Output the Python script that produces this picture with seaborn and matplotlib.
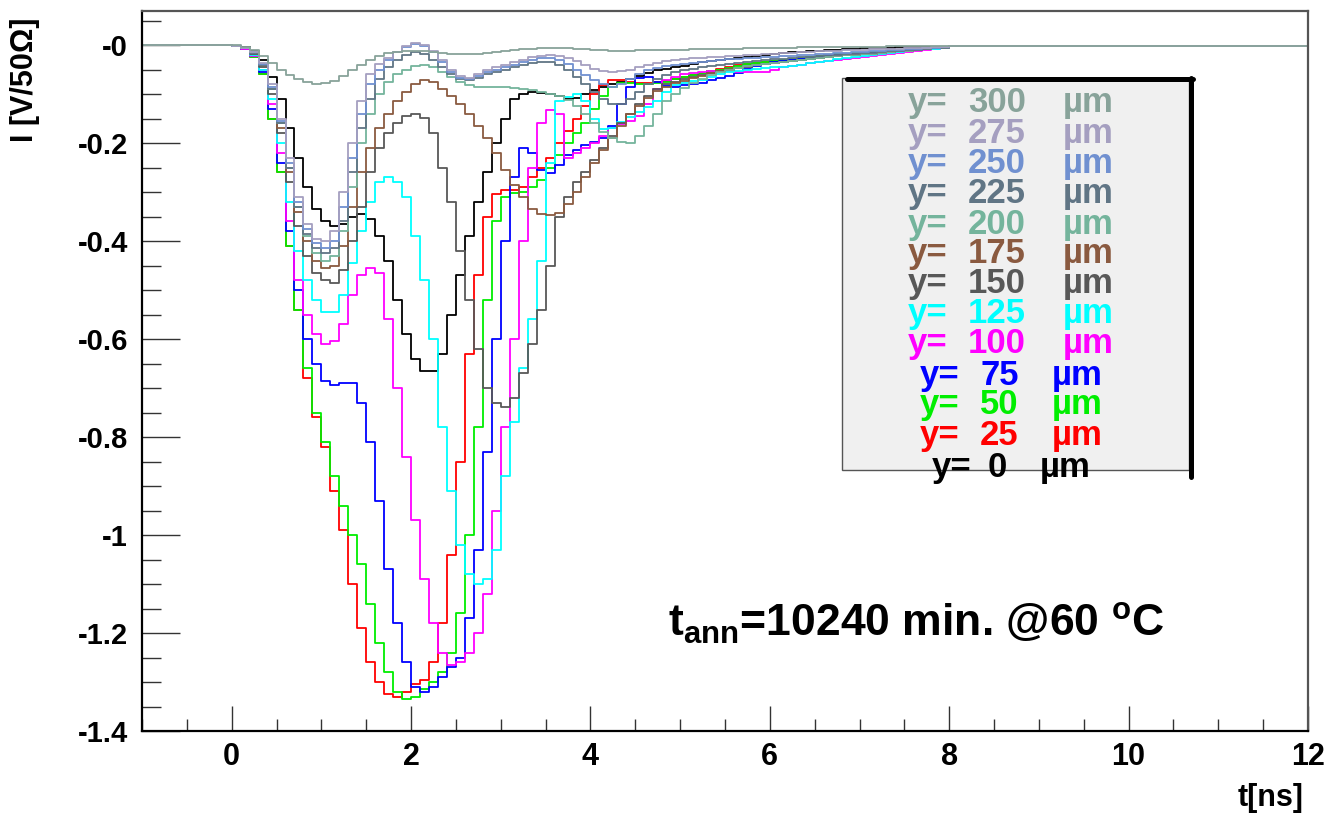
import numpy as np
import pandas as pd
import matplotlib
matplotlib.use("Agg")
import matplotlib.pyplot as plt
import seaborn as sns
from matplotlib.patches import Rectangle
from matplotlib.lines import Line2D
from matplotlib.ticker import MultipleLocator, FuncFormatter

# ---------------- data ----------------
T_START = 0.0      # first bin edge [ns]
BIN_W = 0.1        # bin width [ns]
PRE_T = -1.0       # start of baseline before signal
END_T = 12.0       # end of time window
BASE_PRE = 0.0
BASE_POST = -0.003

POSITIONS = [0, 25, 50, 75, 100, 125, 150, 175, 200, 225, 250, 275, 300]

I_Y0 = [-0.002, -0.005, -0.012, -0.03, -0.065, -0.11, -0.17, -0.23, -0.29, -0.335,
        -0.36, -0.37, -0.365, -0.35, -0.345, -0.355, -0.39, -0.44, -0.52, -0.59,
        -0.64, -0.665, -0.665, -0.63, -0.55, -0.47, -0.39, -0.32, -0.26, -0.2,
        -0.15, -0.11, -0.1, -0.095, -0.097, -0.1, -0.105, -0.11, -0.108, -0.1,
        -0.092, -0.086, -0.08, -0.075, -0.069, -0.064, -0.057, -0.052, -0.048, -0.045,
        -0.042, -0.038, -0.035, -0.032, -0.03, -0.028, -0.026, -0.024, -0.022, -0.02,
        -0.018, -0.016, -0.015, -0.014, -0.013, -0.012, -0.011, -0.01, -0.009, -0.008,
        -0.007, -0.007, -0.006, -0.006, -0.005, -0.005, -0.005, -0.004, -0.004, -0.004]

I_Y25 = [-0.002, -0.008, -0.025, -0.06, -0.15, -0.26, -0.41, -0.54, -0.68, -0.76,
         -0.82, -0.91, -0.99, -1.10, -1.19, -1.26, -1.30, -1.325, -1.33, -1.32,
         -1.305, -1.295, -1.26, -1.18, -1.04, -0.85, -0.63, -0.47, -0.35, -0.305,
         -0.296, -0.296, -0.29, -0.27, -0.25, -0.23, -0.2, -0.175, -0.15, -0.125,
         -0.1, -0.082, -0.072, -0.072, -0.075, -0.077, -0.077, -0.075, -0.073, -0.07,
         -0.066, -0.062, -0.058, -0.053, -0.048, -0.044, -0.04, -0.038, -0.036, -0.034,
         -0.032, -0.03, -0.028, -0.026, -0.024, -0.022, -0.02, -0.019, -0.018, -0.017,
         -0.016, -0.015, -0.014, -0.012, -0.011, -0.01, -0.009, -0.008, -0.007, -0.006]

I_Y50 = [-0.002, -0.008, -0.025, -0.06, -0.15, -0.26, -0.41, -0.54, -0.66, -0.75,
         -0.81, -0.88, -0.94, -1.0, -1.06, -1.14, -1.22, -1.28, -1.32, -1.335,
         -1.33, -1.315, -1.3, -1.28, -1.24, -1.16, -1.0, -0.78, -0.52, -0.36,
         -0.31, -0.302, -0.3, -0.29, -0.275, -0.25, -0.225, -0.2, -0.18, -0.16,
         -0.13, -0.105, -0.085, -0.078, -0.078, -0.08, -0.08, -0.078, -0.075, -0.07,
         -0.066, -0.062, -0.058, -0.054, -0.05, -0.046, -0.042, -0.039, -0.036, -0.034,
         -0.032, -0.03, -0.028, -0.026, -0.024, -0.022, -0.02, -0.019, -0.018, -0.017,
         -0.016, -0.015, -0.014, -0.013, -0.011, -0.01, -0.009, -0.008, -0.007, -0.006]

I_Y75 = [-0.002, -0.008, -0.022, -0.055, -0.13, -0.24, -0.38, -0.50, -0.60, -0.65,
         -0.685, -0.693, -0.69, -0.69, -0.73, -0.81, -0.93, -1.07, -1.18, -1.26,
         -1.31, -1.32, -1.31, -1.29, -1.27, -1.25, -1.17, -1.03, -0.83, -0.60,
         -0.40, -0.27, -0.21, -0.22, -0.255, -0.262, -0.245, -0.225, -0.215, -0.205,
         -0.198, -0.19, -0.165, -0.12, -0.085, -0.067, -0.066, -0.075, -0.083, -0.085,
         -0.082, -0.08, -0.077, -0.072, -0.068, -0.064, -0.058, -0.048, -0.042, -0.038,
         -0.035, -0.032, -0.03, -0.028, -0.026, -0.024, -0.022, -0.02, -0.019, -0.018,
         -0.017, -0.016, -0.015, -0.013, -0.012, -0.011, -0.01, -0.008, -0.007, -0.006]

I_Y100 = [-0.002, -0.008, -0.022, -0.05, -0.12, -0.22, -0.36, -0.48, -0.55, -0.59,
          -0.61, -0.605, -0.57, -0.51, -0.47, -0.456, -0.466, -0.56, -0.70, -0.84,
          -0.97, -1.09, -1.18, -1.24, -1.265, -1.26, -1.24, -1.20, -1.12, -0.95,
          -0.78, -0.60, -0.40, -0.25, -0.16, -0.133, -0.14, -0.23, -0.22, -0.21,
          -0.2, -0.185, -0.17, -0.162, -0.155, -0.145, -0.12, -0.09, -0.072, -0.065,
          -0.06, -0.057, -0.055, -0.054, -0.054, -0.054, -0.055, -0.055, -0.055, -0.055,
          -0.05, -0.045, -0.042, -0.04, -0.037, -0.035, -0.032, -0.03, -0.028, -0.026,
          -0.024, -0.022, -0.02, -0.018, -0.016, -0.014, -0.012, -0.01, -0.008, -0.006]

I_Y125 = [-0.002, -0.007, -0.02, -0.05, -0.11, -0.2, -0.32, -0.42, -0.48, -0.52,
          -0.545, -0.545, -0.51, -0.445, -0.38, -0.32, -0.28, -0.27, -0.28, -0.31,
          -0.39, -0.48, -0.6, -0.78, -0.91, -1.02, -1.08, -1.1, -1.09, -1.03,
          -0.88, -0.77, -0.66, -0.56, -0.44, -0.24, -0.115, -0.106, -0.1, -0.115,
          -0.15, -0.172, -0.17, -0.158, -0.147, -0.137, -0.127, -0.114, -0.095, -0.082,
          -0.077, -0.074, -0.071, -0.066, -0.06, -0.056, -0.053, -0.05, -0.048, -0.046,
          -0.045, -0.044, -0.042, -0.04, -0.037, -0.035, -0.032, -0.029, -0.026, -0.024,
          -0.022, -0.02, -0.018, -0.016, -0.014, -0.012, -0.011, -0.009, -0.008, -0.006]

I_Y150 = [-0.002, -0.006, -0.018, -0.045, -0.1, -0.18, -0.28, -0.37, -0.43, -0.465,
          -0.48, -0.485, -0.46, -0.4, -0.33, -0.26, -0.21, -0.18, -0.16, -0.145,
          -0.14, -0.148, -0.18, -0.25, -0.32, -0.42, -0.52, -0.62, -0.7, -0.73,
          -0.738, -0.72, -0.67, -0.61, -0.54, -0.45, -0.35, -0.31, -0.28, -0.26,
          -0.235, -0.21, -0.185, -0.16, -0.14, -0.12, -0.105, -0.09, -0.08, -0.075,
          -0.07, -0.066, -0.062, -0.058, -0.054, -0.05, -0.047, -0.044, -0.041, -0.038,
          -0.036, -0.034, -0.032, -0.03, -0.028, -0.026, -0.024, -0.022, -0.021, -0.02,
          -0.019, -0.018, -0.016, -0.015, -0.013, -0.012, -0.01, -0.009, -0.007, -0.006]

I_Y175 = [-0.002, -0.006, -0.017, -0.04, -0.09, -0.17, -0.26, -0.34, -0.40, -0.44,
          -0.455, -0.45, -0.41, -0.33, -0.26, -0.21, -0.17, -0.14, -0.115, -0.095,
          -0.08, -0.071, -0.075, -0.09, -0.105, -0.12, -0.14, -0.165, -0.19, -0.22,
          -0.255, -0.285, -0.31, -0.335, -0.345, -0.347, -0.343, -0.325, -0.3, -0.27,
          -0.24, -0.215, -0.19, -0.165, -0.14, -0.125, -0.108, -0.094, -0.085, -0.078,
          -0.073, -0.068, -0.063, -0.058, -0.053, -0.049, -0.046, -0.043, -0.04, -0.038,
          -0.036, -0.034, -0.032, -0.03, -0.028, -0.026, -0.024, -0.022, -0.021, -0.02,
          -0.019, -0.018, -0.016, -0.015, -0.013, -0.012, -0.01, -0.009, -0.007, -0.006]

I_Y200 = [-0.002, -0.006, -0.016, -0.04, -0.09, -0.16, -0.25, -0.33, -0.39, -0.425,
          -0.44, -0.43, -0.38, -0.29, -0.2, -0.14, -0.1, -0.075, -0.06, -0.05,
          -0.043, -0.04, -0.045, -0.055, -0.065, -0.075, -0.082, -0.086, -0.086, -0.085,
          -0.086, -0.088, -0.09, -0.092, -0.095, -0.1, -0.105, -0.112, -0.125, -0.14,
          -0.16, -0.178, -0.19, -0.198, -0.2, -0.185, -0.165, -0.14, -0.115, -0.1,
          -0.088, -0.078, -0.07, -0.062, -0.056, -0.05, -0.046, -0.043, -0.04, -0.038,
          -0.036, -0.034, -0.032, -0.03, -0.028, -0.026, -0.024, -0.022, -0.021, -0.02,
          -0.019, -0.018, -0.016, -0.015, -0.013, -0.012, -0.01, -0.009, -0.007, -0.006]

I_Y225 = [-0.002, -0.006, -0.016, -0.04, -0.09, -0.16, -0.25, -0.33, -0.385, -0.415,
          -0.425, -0.415, -0.36, -0.26, -0.17, -0.11, -0.07, -0.045, -0.03, -0.02,
          -0.015, -0.018, -0.03, -0.045, -0.06, -0.07, -0.072, -0.068, -0.06, -0.055,
          -0.05, -0.045, -0.04, -0.037, -0.035, -0.035, -0.04, -0.05, -0.065, -0.08,
          -0.095, -0.11, -0.12, -0.12, -0.11, -0.095, -0.08, -0.07, -0.062, -0.056,
          -0.052, -0.048, -0.045, -0.042, -0.04, -0.038, -0.036, -0.034, -0.032, -0.03,
          -0.029, -0.028, -0.026, -0.025, -0.024, -0.022, -0.021, -0.02, -0.019, -0.018,
          -0.017, -0.016, -0.015, -0.013, -0.012, -0.011, -0.01, -0.008, -0.007, -0.006]

I_Y250 = [-0.002, -0.006, -0.015, -0.038, -0.085, -0.155, -0.24, -0.32, -0.375, -0.405,
          -0.415, -0.4, -0.33, -0.23, -0.14, -0.08, -0.05, -0.03, -0.015, -0.005,
          0.002, -0.002, -0.015, -0.035, -0.055, -0.068, -0.07, -0.063, -0.055, -0.05,
          -0.045, -0.04, -0.035, -0.03, -0.027, -0.026, -0.03, -0.038, -0.05, -0.062,
          -0.072, -0.08, -0.085, -0.08, -0.07, -0.06, -0.052, -0.046, -0.042, -0.04,
          -0.038, -0.036, -0.034, -0.032, -0.03, -0.029, -0.028, -0.027, -0.026, -0.025,
          -0.024, -0.023, -0.022, -0.021, -0.02, -0.019, -0.018, -0.017, -0.016, -0.015,
          -0.014, -0.013, -0.012, -0.011, -0.01, -0.009, -0.008, -0.007, -0.006, -0.005]

I_Y275 = [-0.002, -0.006, -0.015, -0.036, -0.08, -0.15, -0.23, -0.31, -0.365, -0.395,
          -0.40, -0.38, -0.3, -0.2, -0.115, -0.06, -0.038, -0.027, -0.015, -0.003,
          0.005, 0.0, -0.012, -0.03, -0.05, -0.064, -0.068, -0.06, -0.052, -0.045,
          -0.04, -0.035, -0.03, -0.025, -0.022, -0.02, -0.022, -0.026, -0.032, -0.04,
          -0.048, -0.054, -0.056, -0.054, -0.05, -0.045, -0.04, -0.036, -0.033, -0.03,
          -0.028, -0.027, -0.026, -0.025, -0.024, -0.023, -0.022, -0.021, -0.02, -0.019,
          -0.018, -0.017, -0.016, -0.015, -0.014, -0.013, -0.012, -0.012, -0.011, -0.01,
          -0.01, -0.009, -0.009, -0.008, -0.008, -0.007, -0.006, -0.006, -0.005, -0.005]

I_Y300 = [-0.001, -0.004, -0.01, -0.022, -0.037, -0.05, -0.062, -0.07, -0.076, -0.079,
          -0.078, -0.073, -0.064, -0.052, -0.04, -0.03, -0.022, -0.017, -0.014, -0.012,
          -0.012, -0.013, -0.015, -0.017, -0.018, -0.019, -0.019, -0.018, -0.016, -0.014,
          -0.012, -0.01, -0.009, -0.008, -0.007, -0.006, -0.006, -0.007, -0.008, -0.009,
          -0.01, -0.011, -0.012, -0.012, -0.012, -0.011, -0.011, -0.01, -0.01, -0.01,
          -0.01, -0.009, -0.009, -0.009, -0.008, -0.008, -0.008, -0.007, -0.007, -0.007,
          -0.006, -0.006, -0.006, -0.005, -0.005, -0.005, -0.004, -0.004, -0.004, -0.004,
          -0.004, -0.004, -0.004, -0.003, -0.003, -0.003, -0.003, -0.003, -0.003, -0.003]

CURVES = [I_Y0, I_Y25, I_Y50, I_Y75, I_Y100, I_Y125, I_Y150, I_Y175,
          I_Y200, I_Y225, I_Y250, I_Y275, I_Y300]

ANNOTATION = r"$\mathbf{t_{ann}}$=10240 min. @60 $^{\mathbf{o}}$C"
X_LABEL = "t[ns]"
Y_LABEL = "I [V/50\u03a9]"

# ---------------- style ----------------
COLORS = {0: "#000000", 25: "#ff0000", 50: "#00ee00", 75: "#0000ff",
          100: "#ff00ff", 125: "#00ffff", 150: "#585858", 175: "#8a5a40",
          200: "#74b49c", 225: "#607585", 250: "#7090d0", 275: "#a59fc0",
          300: "#88a39a"}

W, H = 1329, 813
sns.set_theme(style="white")
plt.rcParams["font.family"] = ["Liberation Sans", "DejaVu Sans"]
plt.rcParams["font.weight"] = "bold"
plt.rcParams["text.color"] = "black"
plt.rcParams["xtick.color"] = "black"
plt.rcParams["ytick.color"] = "black"
plt.rcParams["mathtext.fontset"] = "custom"
plt.rcParams["mathtext.rm"] = "Liberation Sans:bold"
plt.rcParams["mathtext.bf"] = "Liberation Sans:bold"
plt.rcParams["mathtext.it"] = "Liberation Sans:bold"

fig = plt.figure(figsize=(W / 100, H / 100), dpi=100)
fig.patch.set_facecolor("white")


def fx(px):
    return px / W


def fy(py):
    return 1 - py / H


ax = fig.add_axes([fx(142), fy(731), fx(1308) - fx(142), fy(11) - fy(731)])
ax.set_facecolor("white")

# long-form data frame
frames = []
for pos, vals in zip(POSITIONS, CURVES):
    n = len(vals)
    t = np.concatenate([[PRE_T], T_START + BIN_W * np.arange(n + 1), [END_T]])
    v = np.concatenate([[BASE_PRE], vals, [BASE_POST, BASE_POST]])
    frames.append(pd.DataFrame({"t": t, "I": v, "pos": pos}))
df = pd.concat(frames, ignore_index=True)

for pos in POSITIONS:
    sub = df[df["pos"] == pos]
    sns.lineplot(data=sub, x="t", y="I", ax=ax, color=COLORS[pos],
                 drawstyle="steps-post", lw=1.3, estimator=None, sort=False,
                 legend=False)

ax.set_xlim(-1, 12)
ax.set_ylim(-1.4, 0.0694)
ax.set_xlabel("")
ax.set_ylabel("")

ax.xaxis.set_major_locator(MultipleLocator(2))
ax.xaxis.set_minor_locator(MultipleLocator(0.5))
ax.yaxis.set_major_locator(MultipleLocator(0.2))
ax.yaxis.set_minor_locator(MultipleLocator(0.05))
ax.yaxis.set_major_formatter(FuncFormatter(lambda v, p: "-0" if abs(v) < 1e-9 else f"{v:g}"))
ax.xaxis.set_major_formatter(FuncFormatter(lambda v, p: f"{v:g}"))

ax.tick_params(axis="y", which="major", direction="in", length=27, width=1.0,
               color="#333333", labelcolor="black", pad=10, labelsize=21,
               left=True, right=False)
ax.tick_params(axis="y", which="minor", direction="in", length=13.5, width=1.0,
               color="#333333", left=True, right=False)
ax.tick_params(axis="x", which="major", direction="in", length=18, width=1.0,
               color="#333333", labelcolor="black", pad=8, labelsize=22,
               bottom=True, top=False)
ax.tick_params(axis="x", which="minor", direction="in", length=9, width=1.0,
               color="#333333", bottom=True, top=False)
for lab in ax.get_xticklabels() + ax.get_yticklabels():
    lab.set_fontweight("bold")

for side in ["left", "bottom"]:
    ax.spines[side].set_color("black")
    ax.spines[side].set_linewidth(1.6)
for side in ["top", "right"]:
    ax.spines[side].set_color("#555555")
    ax.spines[side].set_linewidth(1.6)

# axis titles
fig.text(fx(25), fy(18), Y_LABEL, rotation=90, ha="center", va="top",
         fontsize=22, fontweight="bold", color="black")
fig.text(fx(1304), fy(806), X_LABEL, ha="right", va="baseline",
         fontsize=22, fontweight="bold", color="black")

# annotation
fig.text(fx(668), fy(637), ANNOTATION, ha="left", va="baseline",
         fontsize=32, fontweight="bold", color="black")

# legend box
fig.add_artist(Rectangle((fx(842), fy(470)), fx(1189) - fx(842), fy(78) - fy(470),
                         transform=fig.transFigure, facecolor="#f0f0f0",
                         edgecolor="#555555", lw=1.0, zorder=5))
fig.add_artist(Line2D([fx(847), fx(1193)], [fy(79.5), fy(79.5)],
                      transform=fig.transFigure, color="black", lw=3.6, zorder=6))
fig.add_artist(Line2D([fx(1191), fx(1191)], [fy(78), fy(477)],
                      transform=fig.transFigure, color="black", lw=3.6, zorder=6))

LEG_BASE = {300: 112, 275: 143, 250: 173, 225: 203, 200: 234, 175: 263, 150: 293,
            125: 323, 100: 353, 75: 385, 50: 414, 25: 445, 0: 477}
for pos in POSITIONS[::-1]:
    nd = len(str(pos))
    xs = {3: (908, 968, 1063), 2: (920, 980, 1052), 1: (932, 988, 1040)}[nd]
    yb = fy(LEG_BASE[pos])
    c = COLORS[pos]
    kw = dict(ha="left", va="baseline", fontsize=25, fontweight="bold", color=c, zorder=7)
    fig.text(fx(xs[0]), yb, "y=", **kw)
    fig.text(fx(xs[1]), yb, str(pos), **kw)
    fig.text(fx(xs[2]), yb, "\u00b5m", **kw)

fig.savefig("out.png", dpi=100, facecolor="white")
